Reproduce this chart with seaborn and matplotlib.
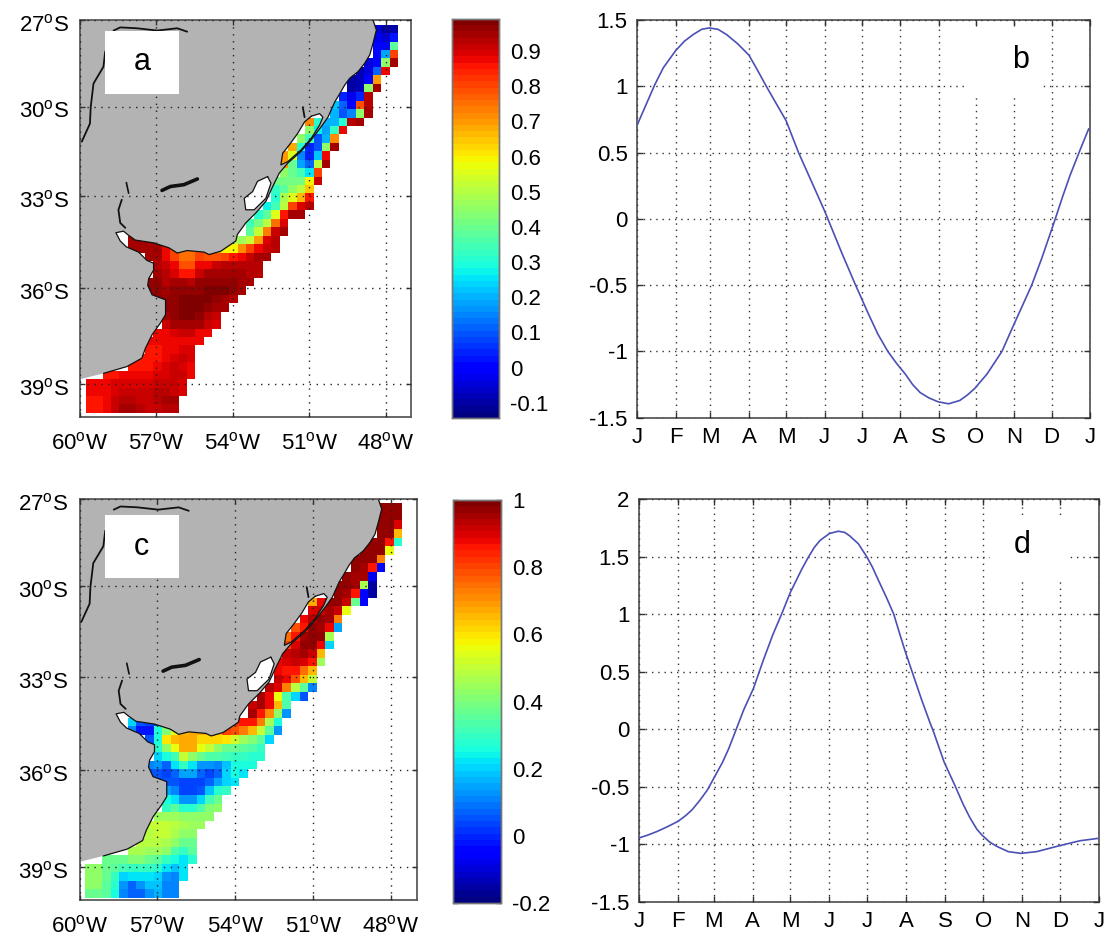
import numpy as np
import pandas as pd
import matplotlib
matplotlib.use("Agg")
import matplotlib.pyplot as plt
from matplotlib.path import Path
from matplotlib.patches import PathPatch, Rectangle
from matplotlib.transforms import ScaledTranslation
import seaborn as sns

sns.set_theme(style="white")
plt.rcParams["font.family"] = ["Liberation Sans", "DejaVu Sans"]
plt.rcParams["mathtext.fontset"] = "custom"
plt.rcParams["mathtext.rm"] = "Liberation Sans"

# ---------- data ----------
row_starts = [34, 34, 34, 34, 33, 32, 31, 31, 30, 29, 29, 26, 26, 25, 24, 23, 23, 23, 22, 22, 22, 21, 20,
              19, 19, 5, 5, 7, 8, 8, 7, 7, 8, 9, 9, 9, 8, 7, 7, 6, 5, 2, 0, 0, 0, 0]

field_a = [
    [-.05, -.1, -.1], [-.02, -.05, .03], [0, 0, .38], [0, .18, .8], [-.05, 0, .45, .95],
    [-.08, -.05, .12, .87], [-.1, -.08, 0, .7], [-.1, -.08, .45, .95], [.05, -.02, .05, .93],
    [.22, .12, 0, .78, .93], [.2, .1, .15, .45, .95], [.72, .3, .2, .2, .3, .93, .95],
    [.45, .28, .18, .33, .87], [.45, .35, .1, .2, .72], [.68, .3, .05, .1, .45, .95],
    [.7, .55, .15, .05, .22, .87], [.7, .4, .18, .12, .5, .95], [.45, .4, .35, .25, .8],
    [.42, .42, .42, .42, .6, .92], [.33, .38, .45, .5, .65], [.3, .48, .55, .67, .85],
    [.28, .35, .5, .8, .9, .93], [.3, .38, .55, .85, .95, .95], [.35, .42, .5, .75, .9],
    [.38, .52, .73, .92, .95],
    [.95, .95, .95, .95, .9, .85, .8, .75, .7, .65, .6, .55, .5, .47, .52, .7, .9, .93],
    [.95, .95, .95, .95, .88, .8, .75, .75, .78, .75, .7, .6, .6, .72, .8, .88, .92, .93],
    [.95, .95, .88, .8, .76, .75, .8, .78, .78, .8, .85, .88, .92, .95, .95],
    [.93, .92, .87, .78, .78, .87, .88, .92, .93, .93, .93, .93, .93],
    [.95, .93, .9, .85, .85, .92, .94, .95, .95, .95, .95, .93, .93],
    [.97, .96, .93, .94, .95, .93, .97, .97, .97, .97, .97, .95, .95],
    [.97, .96, .95, .96, .96, .96, .97, .98, .98, .98, .97, .95],
    [.96, .96, .97, .98, .98, .98, .98, .97, .95, .93],
    [.96, .97, .98, .98, .98, .97, .95, .94],
    [.95, .97, .98, .98, .97, .93, .92],
    [.92, .95, .95, .95, .95, .92, .9],
    [.88, .88, .9, .92, .92, .88, .87],
    [.87, .87, .87, .87, .87, .88, .87],
    [.86, .86, .87, .88, .9, .9],
    [.86, .86, .86, .88, .9, .92, .9],
    [.86, .86, .86, .88, .9, .92, .9, .88],
    [.86, .86, .87, .88, .88, .88, .9, .9, .92, .92, .88],
    [.87, .87, .87, .89, .9, .9, .9, .9, .92, .92, .92, .9],
    [.87, .87, .88, .9, .91, .92, .91, .92, .93, .93, .92, .9],
    [.86, .86, .88, .92, .93, .93, .92, .92, .93, .95, .95],
    [.86, .86, .88, .92, .94, .95, .93, .92, .92, .93, .93],
]

field_c = [
    [.98, .98, .98], [.98, .98, .98], [.98, .98, .9], [.98, .98, .65], [.98, .98, .85, .28],
    [.98, .98, .98, .55], [.97, .97, .97, .72], [.97, .95, .85, -.05], [.97, .95, .95, -.08],
    [.97, .97, .95, .47, -.15], [.97, .95, .85, -.05, -.15], [.68, .88, .97, .97, .92, .37, -.05],
    [.9, .92, .95, .92, .55], [.88, .93, .97, .95, .72], [.78, .85, .97, .95, .88, .15],
    [.75, .85, .95, .97, .97, .47], [.8, .9, .97, .97, .87, .2], [.92, .93, .95, .92, .65],
    [.88, .9, .92, .9, .85, .45], [.88, .85, .85, .75, .65], [.92, .88, .78, .65, .5],
    [.93, .9, .72, .48, .35, .1], [.95, .87, .55, .33, .2, .05], [.92, .95, .87, .65, .33],
    [.95, .85, .7, .42, .12],
    [.2, .05, .03, .03, .3, .4, .5, .6, .7, .75, .8, .8, .82, .85, .85, .73, .47, .25],
    [.1, -.03, -.03, .25, .4, .55, .65, .68, .68, .65, .65, .8, .78, .72, .65, .5, .35, .12],
    [.05, .25, .6, .65, .68, .68, .62, .62, .62, .6, .52, .45, .4, .35, .2],
    [.28, .42, .55, .68, .68, .55, .5, .42, .38, .37, .35, .33, .3],
    [.2, .25, .32, .5, .42, .38, .33, .33, .32, .3, .3, .28, .28],
    [.1, .12, .08, .22, .3, .22, .12, .12, .1, .18, .25, .25, .25],
    [.05, .05, .03, .07, .15, .15, .08, .03, .07, .2, .25, .22],
    [.05, .05, .05, .03, .03, .03, .07, .15, .2, .22],
    [.15, .1, .03, .03, .05, .18, .28, .3],
    [.25, .22, .12, .12, .2, .32, .38],
    [.3, .35, .28, .28, .33, .4, .42],
    [.45, .45, .45, .42, .42, .42, .43],
    [.5, .5, .5, .48, .47, .45, .45],
    [.48, .5, .5, .47, .43, .43],
    [.48, .48, .48, .47, .42, .38, .38],
    [.47, .47, .45, .45, .42, .33, .3, .35],
    [.38, .38, .38, .4, .4, .38, .35, .3, .25, .22, .28],
    [.42, .42, .38, .36, .32, .3, .3, .3, .28, .22, .18, .22],
    [.43, .43, .38, .3, .2, .22, .22, .22, .2, .12, .1, .22],
    [.42, .42, .35, .27, .12, .07, .12, .18, .18, .1, .1],
    [.38, .38, .35, .25, .1, .07, .08, .13, .17, .1, .1],
]
n_rows, n_cols = 46, 37

coast_lon = [-48.49, -48.36, -48.49, -48.62, -48.82, -49.08, -49.41, -49.61, -49.80, -50.0, -50.26, -50.53,
             -50.92, -51.32, -51.84, -52.17, -52.43, -52.70, -53.09, -53.49, -53.82, -53.88, -54.47, -54.93,
             -55.13, -55.79, -56.18, -56.51, -57.11, -57.83, -58.13, -58.29, -58.59, -58.42, -58.18, -57.70,
             -57.37, -57.11, -57.11, -57.30, -57.34, -57.17, -56.64, -56.64, -56.84, -57.17, -57.43, -57.57,
             -58.16, -59.08, -60.0, -60.0]
coast_lat = [27.0, 27.35, 27.81, 28.22, 28.51, 28.80, 29.03, 29.27, 29.56, 29.85, 30.36, 30.69,
             31.13, 31.52, 31.91, 32.24, 32.69, 33.18, 33.56, 33.89, 34.27, 34.48, 34.81, 34.92,
             34.84, 34.79, 34.87, 34.70, 34.54, 34.45, 34.27, 34.16, 34.21, 34.48, 34.67, 34.84,
             35.11, 35.20, 35.42, 35.69, 35.91, 36.21, 36.37, 36.84, 37.10, 37.47, 37.89, 38.20,
             38.46, 38.67, 38.85, 27.0]
patos_lon = [-50.92, -50.59, -50.46, -50.59, -50.92, -51.32, -51.84, -52.11, -52.04, -51.78, -51.45, -51.18]
patos_lat = [30.33, 30.24, 30.36, 30.63, 31.08, 31.47, 31.86, 31.97, 31.58, 31.30, 30.91, 30.52]
mirim_lon = [-52.63, -52.5, -52.7, -53.16, -53.49, -53.55, -53.22, -53.03]
mirim_lat = [32.36, 32.58, 33.08, 33.46, 33.46, 33.08, 32.86, 32.52]
rivers = [
    ([-58.68, -58.42, -57.76, -56.97, -56.18, -55.79], [27.37, 27.26, 27.29, 27.37, 27.29, 27.41], 1.3),
    ([-59.01, -59.08, -59.47, -59.58, -59.61, -59.93], [28.10, 28.63, 29.21, 30.02, 30.58, 31.19], 1.3),
    ([-58.18, -58.09], [32.56, 32.91], 1.2),
    ([-58.36, -58.49, -58.42, -58.22], [33.13, 33.46, 33.89, 34.05], 1.3),
    ([-56.78, -56.45, -55.92, -55.39], [32.82, 32.69, 32.63, 32.44], 2.6),
    ([-51.25, -51.18], [30.02, 30.36], 1.3),
]

month_days = [0, 31, 59, 90, 120, 151, 181, 212, 243, 273, 304, 334, 365]
month_labels = list("JFMAMJJASONDJ")

b_day = [0, 7, 14, 21, 31, 38, 45, 52, 58, 65, 72, 81, 90, 97, 104, 112, 120, 130, 141, 151, 158, 165, 176,
         186, 194, 202, 209, 216, 222, 228, 235, 242.5, 251, 260, 266, 272, 282, 294, 303, 318, 326, 333, 337,
         343, 349, 357, 364]
b_val = [.71, .86, 1.01, 1.14, 1.27, 1.34, 1.39, 1.43, 1.44, 1.43, 1.39, 1.32, 1.235, 1.12, 1.0, .87, .74, .5,
         .27, .06, -.1, -.26, -.5, -.71, -.87, -1.0, -1.09, -1.17, -1.25, -1.31, -1.35, -1.38, -1.395, -1.37,
         -1.33, -1.28, -1.17, -1.0, -.81, -.5, -.3, -.11, 0.0, .17, .33, .52, .68]
d_day = [0, 7, 14, 22, 31, 37, 42, 48, 54, 61, 66, 71, 77, 83, 90.5, 98.5, 106, 113, 120, 129, 134, 139, 143.5,
         151, 158, 163, 167, 174, 180.5, 185, 190, 196, 202, 207, 211, 217.5, 224, 231, 233.5, 242, 251, 257,
         262.5, 268, 272, 278, 284, 293, 303, 315.5, 333, 350, 364]
d_val = [-.945, -.92, -.89, -.85, -.80, -.75, -.70, -.62, -.53, -.39, -.29, -.17, 0, .17, .35, .6, .82, 1.0,
         1.19, 1.39, 1.49, 1.58, 1.64, 1.70, 1.72, 1.71, 1.68, 1.61, 1.5, 1.41, 1.29, 1.15, 1.0, .82, .68, .47,
         .26, .05, -.02, -.285, -.5, -.65, -.77, -.87, -.92, -.98, -1.02, -1.065, -1.08, -1.065, -1.015, -.97,
         -.95]

lat_ticks = [27, 30, 33, 36, 39]
lon_ticks = [60, 57, 54, 51, 48]

# ---------- helpers ----------
W, H = 1104, 936
fig = plt.figure(figsize=(W / 100, H / 100), dpi=100, facecolor="white")
FRAME = "#5a5a5a"
FS = 16


def axes_px(x0, y0, x1, y1, **kw):
    return fig.add_axes([x0 / W, 1 - y1 / H, (x1 - x0) / W, (y1 - y0) / H], **kw)


def merc(lat):
    p = np.radians(np.asarray(lat, dtype=float))
    return np.log(np.tan(np.pi / 4 + p / 2))


def to_grid(values):
    g = np.full((n_rows, n_cols), np.nan)
    for j, (s, row) in enumerate(zip(row_starts, values)):
        g[j, s:s + len(row)] = row
    return g


def ring(lon, lat, hole=False):
    v = np.column_stack([lon, merc(lat)])
    area = 0.5 * np.sum(v[:, 0] * np.roll(v[:, 1], -1) - np.roll(v[:, 0], -1) * v[:, 1])
    if (area > 0) == hole:
        v = v[::-1]
    codes = [Path.MOVETO] + [Path.LINETO] * (len(v) - 1) + [Path.CLOSEPOLY]
    return np.vstack([v, v[0]]), codes


def style_frame(ax):
    for s in ax.spines.values():
        s.set_visible(True)
        s.set_color(FRAME)
        s.set_linewidth(1.3)


def map_panel(rect, cell, field, vmin, vmax, cb_rect, cb_ticks, box, letter, letter_xy):
    x0, y0, x1, y1 = rect
    cx, cy, cs = cell
    hm = axes_px(x0, y0, x1, y1)
    cax = axes_px(*cb_rect)
    sns.heatmap(pd.DataFrame(to_grid(field)), ax=hm, cmap=matplotlib.colormaps["jet"].resampled(64),
                vmin=vmin, vmax=vmax, cbar_ax=cax, cbar_kws={"ticks": cb_ticks},
                xticklabels=False, yticklabels=False, linewidths=0)
    hm.set_xlim((x0 - cx) / cs, (x1 - cx) / cs)
    hm.set_ylim((y1 - cy) / cs, (y0 - cy) / cs)
    hm.tick_params(left=False, bottom=False)
    for s in hm.spines.values():
        s.set_visible(False)
    cax.tick_params(direction="in", left=True, right=True, length=3.5, width=1, color="#333333",
                    labelsize=FS, labelcolor="black", pad=8)
    cax.set_yticklabels([f"{t:g}" for t in cb_ticks])
    cax.collections[0].set_edgecolor("face")
    for s in cax.spines.values():
        s.set_visible(True)
        s.set_color("#777777")
        s.set_linewidth(1.0)

    geo = axes_px(x0, y0, x1, y1)
    geo.patch.set_alpha(0)
    geo.set_xlim(-60, -47)
    geo.set_ylim(merc(40), merc(27))
    vs, cs_ = [], []
    for args in ((coast_lon, coast_lat, False), (patos_lon, patos_lat, True), (mirim_lon, mirim_lat, True)):
        v, c = ring(*args)
        vs.append(v)
        cs_ += c
    geo.add_patch(PathPatch(Path(np.vstack(vs), cs_), facecolor="#b3b3b3", edgecolor="none", zorder=1))
    geo.plot(coast_lon[:-2], merc(coast_lat[:-2]), color="#111111", lw=0.9, zorder=2)
    for lo, la in ((patos_lon, patos_lat), (mirim_lon, mirim_lat)):
        geo.plot(lo + lo[:1], merc(la + la[:1]), color="#111111", lw=0.9, zorder=2)
    for lo, la, lw in rivers:
        geo.plot(lo, merc(la), color="#111111", lw=lw, zorder=2)
    geo.set_xticks([-v for v in lon_ticks])
    geo.set_xticklabels([rf"{v}$^{{\mathrm{{o}}}}$W" for v in lon_ticks], fontsize=FS)
    geo.set_yticks(merc(lat_ticks))
    geo.set_yticklabels([rf"{v}$^{{\mathrm{{o}}}}$S" for v in lat_ticks], fontsize=FS)
    geo.tick_params(direction="in", top=True, right=True, left=True, bottom=True, length=3.5, width=1,
                    color="#333333", labelcolor="black")
    geo.tick_params(axis="x", pad=11)
    geo.tick_params(axis="y", pad=8)
    shift = ScaledTranslation(0, -2 / 72, fig.dpi_scale_trans)
    for lab in geo.get_yticklabels():
        lab.set_transform(lab.get_transform() + shift)
    geo.grid(True, color="#222222", linewidth=1.0, linestyle=(0, (1, 4)))
    geo.set_axisbelow(False)
    style_frame(geo)
    bx0, by0, bx1, by1 = box
    geo.add_patch(Rectangle((bx0, by0), bx1 - bx0, by1 - by0, transform=None, facecolor="white",
                            edgecolor="none", zorder=5))
    fig.text(letter_xy[0] / W, 1 - letter_xy[1] / H, letter, fontsize=22, ha="center", va="center",
             color="black", zorder=20)


def line_panel(rect, days, vals, ylim, yticks, box, letter, letter_xy):
    x0, y0, x1, y1 = rect
    ax = axes_px(x0, y0, x1, y1)
    sns.lineplot(x=days, y=vals, ax=ax, color="#4a50b4", linewidth=1.2, estimator=None, zorder=6)
    ax.set_xlim(0, 365)
    ax.set_ylim(*ylim)
    ax.set_xticks(month_days)
    ax.set_xticklabels(month_labels, fontsize=FS)
    ax.set_yticks(yticks)
    ax.set_yticklabels([f"{t:g}" for t in yticks], fontsize=FS)
    ax.tick_params(direction="in", top=True, right=True, left=True, bottom=True, length=4, width=1,
                   color="#333333", labelcolor="black")
    ax.tick_params(axis="x", pad=7)
    ax.tick_params(axis="y", pad=7)
    ax.grid(True, color="#333333", linewidth=1.0, linestyle=(0, (1, 3.5)))
    ax.set_axisbelow(False)
    style_frame(ax)
    bx0, by0, bx1, by1 = box
    ax.add_patch(Rectangle((bx0, H - by1), bx1 - bx0, by1 - by0, transform=None, facecolor="white",
                           edgecolor="none", zorder=5))
    fig.text(letter_xy[0] / W, 1 - letter_xy[1] / H, letter, fontsize=22, ha="center", va="center",
             color="black", zorder=20)


def px_box(x0, y0, x1, y1):
    return (x0, H - y1, x1, H - y0)


map_panel((80, 20, 411, 417), (85.67, 24.67, 8.44), field_a, -0.143, 0.991, (452, 19, 499, 418),
          [-.1, 0, .1, .2, .3, .4, .5, .6, .7, .8, .9], px_box(105, 30.7, 179.3, 94), "a", (142, 62))
map_panel((79.5, 499, 417, 900), (85, 503.3, 8.58), field_c, -0.2, 1.0, (452.7, 500, 500.7, 903),
          [-.2, 0, .2, .4, .6, .8, 1], px_box(105, 515, 179, 578), "c", (141, 547))
line_panel((637.3, 20, 1090, 417.7), b_day, b_val, (-1.5, 1.5), [-1.5, -1, -.5, 0, .5, 1, 1.5],
           (966.7, 28.3, 1041.7, 96.7), "b", (1021, 60))
line_panel((639.3, 499, 1099, 901.7), d_day, d_val, (-1.5, 2), [-1.5, -1, -.5, 0, .5, 1, 1.5, 2],
           (990, 518, 1068, 582), "d", (1022, 545))

fig.savefig("out.png", dpi=100, facecolor="white")
